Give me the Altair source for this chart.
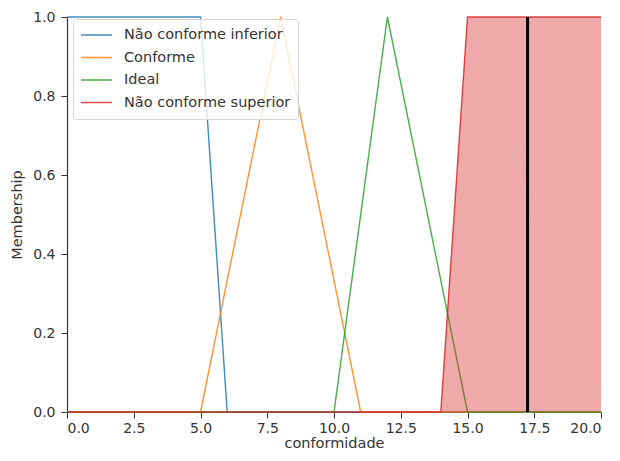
import altair as alt
import pandas as pd

# ---- data ----
series_names = ["Não conforme inferior", "Conforme", "Ideal", "Não conforme superior"]
series_colors = ["#1f77b4", "#ff7f0e", "#2ca02c", "#d62728"]

x_inferior = [0, 5, 6, 20]
y_inferior = [1, 1, 0, 0]

x_conforme = [0, 5, 8, 11, 20]
y_conforme = [0, 0, 1, 0, 0]

x_ideal = [0, 10, 12, 15, 20]
y_ideal = [0, 0, 1, 0, 0]

x_superior = [0, 14, 15, 20]
y_superior = [0, 0, 1, 1]

crisp_value = [17.25]

x_ticks = [0, 2.5, 5, 7.5, 10, 12.5, 15, 17.5, 20]
y_ticks = [0, 0.2, 0.4, 0.6, 0.8, 1.0]

# ---- build table ----
rows = []
for name, xs, ys in zip(series_names,
                        [x_inferior, x_conforme, x_ideal, x_superior],
                        [y_inferior, y_conforme, y_ideal, y_superior]):
    for i, (xv, yv) in enumerate(zip(xs, ys)):
        rows.append({"serie": name, "x": xv, "y": yv, "ordem": i})
df = pd.DataFrame(rows)
df_sup = df[df["serie"] == series_names[3]]
df_crisp = pd.DataFrame({"x": crisp_value})

FONT = "DejaVu Sans"

x_enc = alt.X("x:Q",
              scale=alt.Scale(domain=[0, 20], nice=False, zero=False),
              axis=alt.Axis(title="conformidade", values=x_ticks, format=".1f",
                            grid=False, tickSize=6, labelPadding=3,
                            titlePadding=1))
y_enc = alt.Y("y:Q",
              scale=alt.Scale(domain=[0, 1], nice=False),
              axis=alt.Axis(title="Membership", values=y_ticks, format=".1f",
                            grid=False, tickSize=6, labelPadding=6,
                            titlePadding=8))

lines = alt.Chart(df).mark_line(strokeWidth=1.4, opacity=0.85).encode(
    x=x_enc,
    y=y_enc,
    color=alt.Color("serie:N",
                    scale=alt.Scale(domain=series_names, range=series_colors),
                    legend=alt.Legend(title=None, orient="none",
                                      legendX=6, legendY=2,
                                      symbolType="stroke", symbolSize=961,
                                      symbolStrokeWidth=1.5, symbolOpacity=0.85,
                                      clipHeight=18, rowPadding=4.5,
                                      labelOffset=11, padding=7,
                                      labelLimit=400,
                                      labelFontSize=14.5, labelFont=FONT,
                                      labelColor="#333333",
                                      fillColor="rgba(255,255,255,0.8)",
                                      strokeColor="#d6d6d6",
                                      cornerRadius=3)),
    order=alt.Order("ordem:Q"),
)

fill = alt.Chart(df_sup).mark_area(color="#d62728", opacity=0.4).encode(
    x="x:Q", y="y:Q", order=alt.Order("ordem:Q"))

vline = alt.Chart(df_crisp).mark_rule(color="black", strokeWidth=3).encode(
    x="x:Q", y=alt.datum(0), y2=alt.datum(1))

chart = alt.layer(lines, fill, vline).properties(
    width=534, height=395,
    autosize=alt.AutoSizeParams(type="none"),
    padding={"left": 59, "top": 9, "right": 11, "bottom": 41},
).configure_view(stroke=None).configure_axis(
    labelFont=FONT, titleFont=FONT, labelFontSize=14, titleFontSize=14.5,
    titleFontWeight="normal", labelColor="#333333", titleColor="#333333",
    domainColor="#333333", tickColor="#333333", domainWidth=1.2,
)

chart.save("out.html", embed_options={"renderer": "svg", "actions": False})
